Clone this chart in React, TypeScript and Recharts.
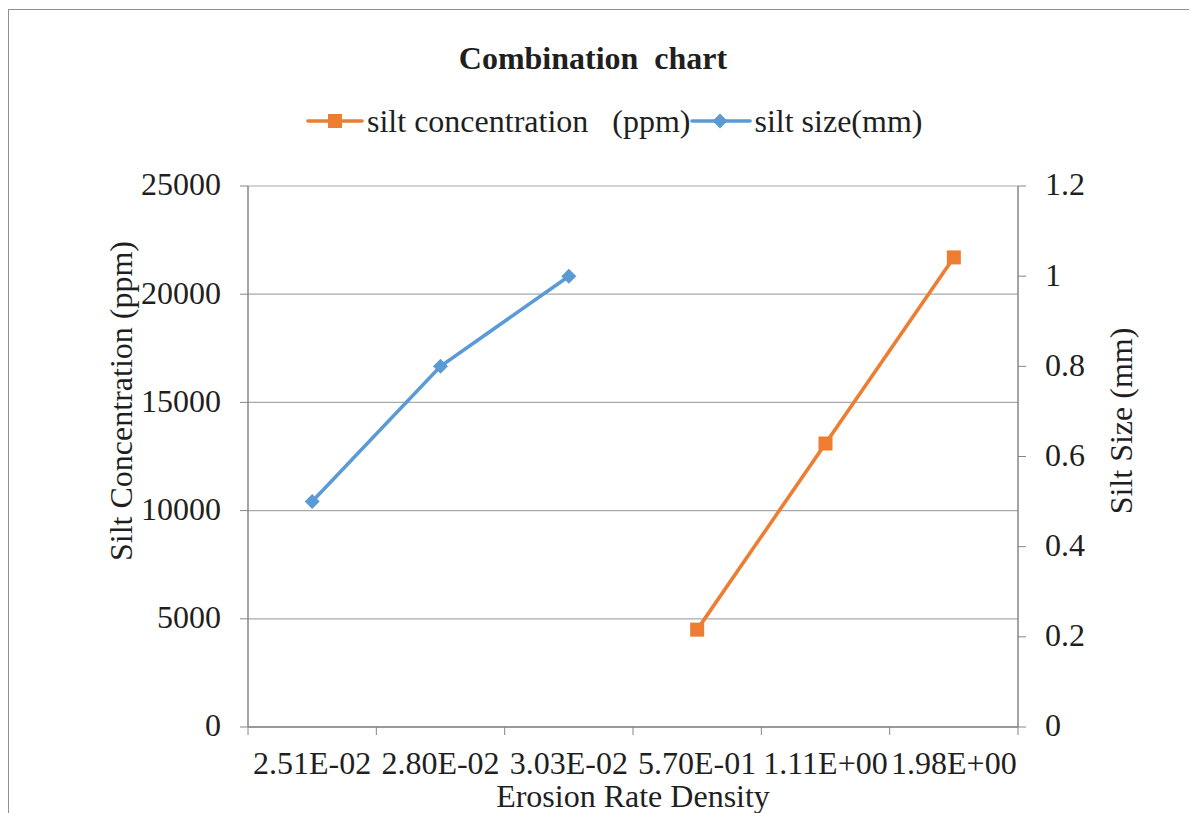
import React from 'react';
import { LineChart, Line, XAxis, YAxis, CartesianGrid } from 'recharts';

// Erosion rate density categories (x axis)
const categories = ['2.51E-02', '2.80E-02', '3.03E-02', '5.70E-01', '1.11E+00', '1.98E+00'];
// Silt concentration in ppm (left axis)
const siltConcentration: (number | null)[] = [null, null, null, 4500, 13100, 21700];
// Silt size in mm (right axis)
const siltSize: (number | null)[] = [0.5, 0.8, 1.0, null, null, null];

const leftTicks = [0, 5000, 10000, 15000, 20000, 25000];
const rightTicks = [0, 0.2, 0.4, 0.6, 0.8, 1, 1.2];

const ORANGE = '#ED7D31';
const BLUE = '#5B9BD5';
const AXIS = '#868686';
const GRID = '#a9a9a9';
const TEXT = '#1f1f1f';
const FONT = '"Liberation Serif", "Times New Roman", serif';
const FS = 32;
const LINE_W = 3.6;

const W = 1189;
const H = 805;

// each category sits in the middle of its own unit-wide slot
const data = categories.map((label, i) => ({
  pos: i + 0.5,
  label,
  conc: siltConcentration[i],
  size: siltSize[i],
}));
const slotEdges = categories.map((_, i) => i).concat(categories.length);
const slotCentres = categories.map((_, i) => i + 0.5);

const SquareDot = (props: any) => {
  const { cx, cy, index } = props;
  if (cx == null || cy == null || props.value == null) return <g key={`sq-${index}`} />;
  return <rect key={`sq-${index}`} x={cx - 7} y={cy - 7} width={14} height={14} fill={ORANGE} />;
};

const DiamondDot = (props: any) => {
  const { cx, cy, index } = props;
  if (cx == null || cy == null || props.value == null) return <g key={`dm-${index}`} />;
  const r = 7.5;
  return (
    <polygon
      key={`dm-${index}`}
      points={`${cx},${cy - r} ${cx + r},${cy} ${cx},${cy + r} ${cx - r},${cy}`}
      fill={BLUE}
    />
  );
};

const fmtRight = (v: number) => String(Math.round(v * 10) / 10);

const textStyle: React.CSSProperties = {
  position: 'absolute',
  fontFamily: FONT,
  fontSize: FS,
  lineHeight: `${FS}px`,
  color: TEXT,
  whiteSpace: 'pre',
};

export default function App() {
  return (
    <div style={{ position: 'relative', width: W, height: H, fontFamily: FONT, overflow: 'hidden' }}>
      {/* chart frame */}
      <div
        style={{
          position: 'absolute',
          left: 0,
          top: 1,
          width: W,
          height: H,
          borderTop: '1px solid #909090',
          borderLeft: '1px solid #909090',
          boxSizing: 'border-box',
        }}
      />

      <LineChart
        width={W}
        height={H}
        data={data}
        margin={{ top: 178, right: 0, bottom: 0, left: 0 }}
        style={{ position: 'absolute', left: 0, top: 0 }}
      >
        <CartesianGrid yAxisId="left" xAxisId="a" vertical={false} stroke={GRID} strokeWidth={1.2} />
        {/* slot boundaries: tick marks only */}
        <XAxis
          xAxisId="a"
          dataKey="pos"
          type="number"
          domain={[0, categories.length]}
          ticks={slotEdges}
          interval={0}
          tickFormatter={() => ''}
          tickSize={8}
          height={8}
          stroke={AXIS}
          tickLine={{ stroke: AXIS }}
          axisLine={{ stroke: AXIS, strokeWidth: 1.5 }}
        />
        {/* slot centres: category labels */}
        <XAxis
          xAxisId="b"
          dataKey="pos"
          type="number"
          domain={[0, categories.length]}
          ticks={slotCentres}
          interval={0}
          tickFormatter={(v: number) => categories[Math.floor(v)] ?? ''}
          tickSize={0}
          tickMargin={16}
          height={78}
          axisLine={false}
          tickLine={false}
          tick={{ fontSize: FS, fill: TEXT, fontFamily: FONT }}
          label={{
            value: 'Erosion Rate Density',
            position: 'insideBottom',
            offset: 6,
            style: { fontSize: FS, fill: TEXT, fontFamily: FONT },
          }}
        />
        <YAxis
          yAxisId="left"
          orientation="left"
          domain={[0, 25000]}
          ticks={leftTicks}
          interval={0}
          width={240}
          tickSize={8}
          tickMargin={19}
          stroke={AXIS}
          axisLine={{ stroke: AXIS, strokeWidth: 1.5 }}
          tickLine={{ stroke: AXIS }}
          tick={{ fontSize: FS, fill: TEXT, fontFamily: FONT, dy: -2 }}
        />
        <YAxis
          yAxisId="right"
          orientation="right"
          domain={[0, 1.2]}
          ticks={rightTicks}
          interval={0}
          width={179}
          tickSize={8}
          tickMargin={19}
          tickFormatter={fmtRight}
          stroke={AXIS}
          axisLine={{ stroke: AXIS, strokeWidth: 1.5 }}
          tickLine={{ stroke: AXIS }}
          tick={{ fontSize: FS, fill: TEXT, fontFamily: FONT, dy: -2 }}
        />
        <Line
          xAxisId="a"
          yAxisId="left"
          dataKey="conc"
          name="silt concentration   (ppm)"
          stroke={ORANGE}
          strokeWidth={LINE_W}
          dot={SquareDot}
          activeDot={false}
          connectNulls={false}
          isAnimationActive={false}
        />
        <Line
          xAxisId="a"
          yAxisId="right"
          dataKey="size"
          name="silt size(mm)"
          stroke={BLUE}
          strokeWidth={LINE_W}
          dot={DiamondDot}
          activeDot={false}
          connectNulls={false}
          isAnimationActive={false}
        />
      </LineChart>

      {/* title */}
      <div style={{ ...textStyle, fontWeight: 'bold', left: 585, top: 34, transform: 'translateX(-50%)' }}>
        {'Combination  chart'}
      </div>

      {/* legend */}
      <div style={{ position: 'absolute', left: 298, top: 97, display: 'flex', alignItems: 'flex-start', height: FS }}>
        <svg width={58} height={FS} style={{ display: 'block' }}>
          <line x1={2} y1={16} x2={56} y2={16} stroke={ORANGE} strokeWidth={LINE_W} strokeLinecap="round" />
          <rect x={22} y={9} width={14} height={14} fill={ORANGE} />
        </svg>
        <span style={{ ...textStyle, position: 'static', marginLeft: 3 }}>{'silt concentration   (ppm)'}</span>
        <svg width={64} height={FS} style={{ display: 'block' }}>
          <line x1={2} y1={16} x2={60} y2={16} stroke={BLUE} strokeWidth={LINE_W} strokeLinecap="round" />
          <polygon points="30,8.5 37.5,16 30,23.5 22.5,16" fill={BLUE} />
        </svg>
        <span style={{ ...textStyle, position: 'static' }}>{'silt size(mm)'}</span>
      </div>

      {/* axis titles */}
      <div style={{ ...textStyle, left: 113, top: 393, transform: 'translate(-50%, -50%) rotate(-90deg)' }}>
        {'Silt Concentration (ppm)'}
      </div>
      <div style={{ ...textStyle, left: 1113, top: 413, transform: 'translate(-50%, -50%) rotate(-90deg)' }}>
        {'Silt Size (mm)'}
      </div>
    </div>
  );
}
